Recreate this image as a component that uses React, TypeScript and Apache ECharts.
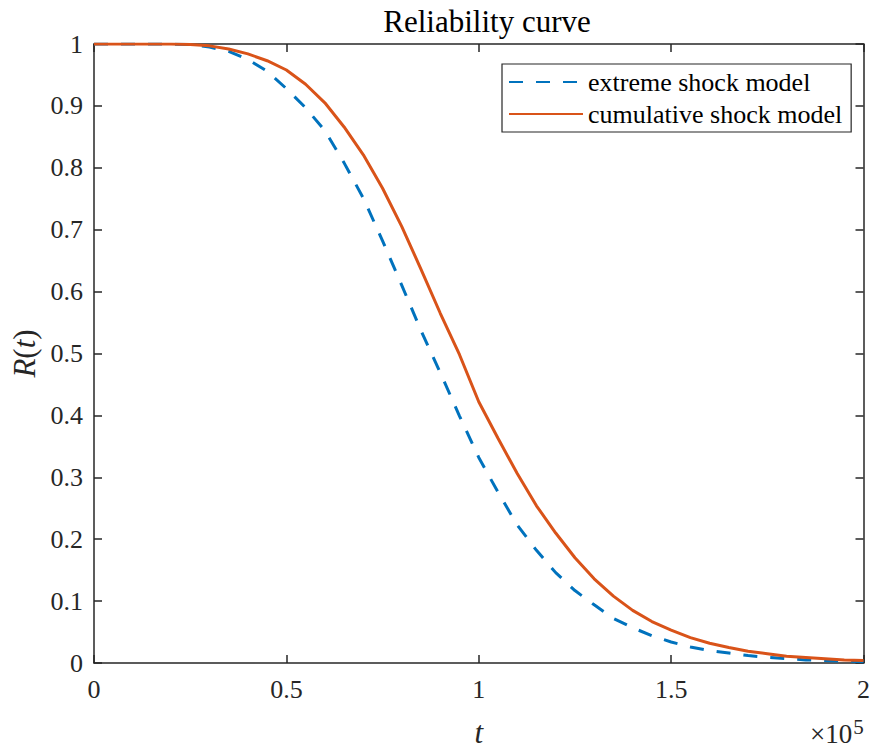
import React, { useEffect, useRef } from "react";
import * as echarts from "echarts";

const titleText = "Reliability curve";
const seriesNames = ["extreme shock model", "cumulative shock model"];
const tValues = [
  0, 5000, 10000, 15000, 20000, 25000, 30000, 35000, 40000, 45000,
  50000, 55000, 60000, 65000, 70000, 75000, 80000, 85000, 90000, 95000,
  100000, 105000, 110000, 115000, 120000, 125000, 130000, 135000, 140000, 145000,
  150000, 155000, 160000, 165000, 170000, 175000, 180000, 185000, 190000, 195000,
  200000,
];
const extremeR = [
  1.0, 1.0, 1.0, 1.0, 1.0, 0.999, 0.995, 0.988, 0.975, 0.956,
  0.928, 0.897, 0.86, 0.808, 0.751, 0.682, 0.61, 0.537, 0.469, 0.399,
  0.332, 0.276, 0.223, 0.182, 0.146, 0.117, 0.094, 0.072, 0.057, 0.044,
  0.034, 0.026, 0.02, 0.016, 0.012, 0.009, 0.007, 0.005, 0.004, 0.003,
  0.002,
];
const cumulativeR = [
  1.0, 1.0, 1.0, 1.0, 1.0, 0.999, 0.997, 0.992, 0.984, 0.973,
  0.958, 0.935, 0.905, 0.866, 0.821, 0.767, 0.705, 0.636, 0.565, 0.498,
  0.422, 0.363, 0.306, 0.254, 0.21, 0.17, 0.136, 0.108, 0.085, 0.067,
  0.053, 0.041, 0.032, 0.025, 0.019, 0.015, 0.011, 0.009, 0.007, 0.005,
  0.004,
];
const xTickStep = 50000;
const yTickStep = 0.1;

const FONT = "Liberation Serif";
const AX = "#262626";

export default function App() {
  const ref = useRef<HTMLDivElement>(null);
  useEffect(() => {
    if (!ref.current) return;
    const chart = echarts.init(ref.current, undefined, { renderer: "svg" });
    const axisLine = { show: true, onZero: false, lineStyle: { color: AX, width: 1.5 } };
    const tick = { show: true, inside: true, length: 8, lineStyle: { color: AX, width: 1.5 } };
    const labelStyle = { fontSize: 26, fontFamily: FONT, color: AX };
    chart.setOption({
      animation: false,
      backgroundColor: "#ffffff",
      title: {
        text: titleText,
        left: 482,
        top: 1,
        textAlign: "center",
        textStyle: { fontSize: 31, fontWeight: "normal", fontFamily: FONT, color: "#000" },
      },
      grid: { left: 94, right: 5, top: 44, bottom: 91, containLabel: false },
      legend: {
        orient: "vertical",
        left: 502,
        top: 64,
        padding: [2, 9, 2, 6],
        borderColor: AX,
        borderWidth: 1.2,
        backgroundColor: "#fff",
        itemWidth: 74,
        itemHeight: 14,
        itemGap: 0,
        itemStyle: { color: "rgba(0,0,0,0)", borderWidth: 0, opacity: 0 },
        textStyle: { fontSize: 26, fontFamily: FONT, color: "#000", lineHeight: 32 },
        data: seriesNames,
      },
      xAxis: [
        {
          type: "value",
          position: "bottom",
          min: 0,
          max: 200000,
          interval: xTickStep,
          axisLine,
          axisTick: tick,
          splitLine: { show: false },
          axisLabel: { ...labelStyle, margin: 13, formatter: (v: number) => String(v / 100000) },
          name: "{i|t}",
          nameLocation: "middle",
          nameGap: 54,
          nameTextStyle: {
            rich: { i: { fontSize: 31, fontStyle: "italic", fontFamily: FONT, color: AX } },
          },
        },
        {
          type: "value",
          position: "top",
          min: 0,
          max: 200000,
          interval: xTickStep,
          axisLine,
          axisTick: tick,
          splitLine: { show: false },
          axisLabel: { show: false },
        },
      ],
      yAxis: [
        {
          type: "value",
          position: "left",
          min: 0,
          max: 1,
          interval: yTickStep,
          axisLine,
          axisTick: tick,
          splitLine: { show: false },
          axisLabel: { ...labelStyle, margin: 11 },
          name: "{i|R}{n|(}{i|t}{n|)}",
          nameLocation: "middle",
          nameGap: 54,
          nameTextStyle: {
            rich: {
              i: { fontSize: 31, fontStyle: "italic", fontFamily: FONT, color: AX },
              n: { fontSize: 31, fontFamily: FONT, color: AX },
            },
          },
        },
        {
          type: "value",
          position: "right",
          min: 0,
          max: 1,
          interval: yTickStep,
          axisLine,
          axisTick: tick,
          splitLine: { show: false },
          axisLabel: { show: false },
        },
      ],
      graphic: [
        {
          type: "text",
          left: 810,
          top: 716,
          style: {
            text: "×10{s|5}",
            fontSize: 27,
            fontFamily: FONT,
            fill: AX,
            rich: {
              s: { fontSize: 21, fontFamily: FONT, fill: AX, verticalAlign: "top", padding: [0, 0, 14, 1] },
            },
          },
        },
      ],
      series: [
        {
          name: seriesNames[0],
          type: "line",
          data: tValues.map((t, i) => [t, extremeR[i]]),
          symbol: "none",
          lineStyle: { color: "#0072BD", width: 3, type: [14, 13] },
          itemStyle: { color: "#0072BD" },
          z: 2,
        },
        {
          name: seriesNames[1],
          type: "line",
          data: tValues.map((t, i) => [t, cumulativeR[i]]),
          symbol: "none",
          lineStyle: { color: "#D95319", width: 3 },
          itemStyle: { color: "#D95319" },
          z: 3,
        },
      ],
    });
    return () => chart.dispose();
  }, []);
  return (
    <div
      ref={ref}
      style={{ position: "absolute", left: 0, top: 0, width: 873, height: 754, background: "#fff" }}
    />
  );
}
